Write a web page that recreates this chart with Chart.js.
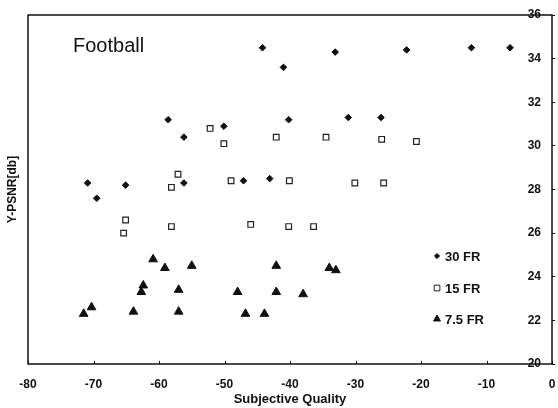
<!DOCTYPE html>
<html>
<head>
<meta charset="utf-8">
<script src="https://cdn.jsdelivr.net/npm/chart.js@4"></script>
<style>
  html, body { margin: 0; padding: 0; background: #fff; }
  canvas { display: block; }
</style>
</head>
<body>
<canvas id="psnrChart" width="558" height="408"></canvas>
<script>
// ── Data ────────────────────────────────────────────────────────────────────
const seriesLabels = ['30 FR', '15 FR', '7.5 FR'];

const fr30X = [-70.9, -69.5, -65.1, -58.6, -56.2, -56.2, -50.1, -47.1, -44.2, -43.1, -41.0, -40.2, -33.1, -31.1, -26.1, -22.2, -12.3, -6.4];
const fr30Y = [28.3, 27.6, 28.2, 31.2, 30.4, 28.3, 30.9, 28.4, 34.5, 28.5, 33.6, 31.2, 34.3, 31.3, 31.3, 34.4, 34.5, 34.5];

const fr15X = [-65.1, -65.4, -58.1, -46.0, -40.2, -36.4, -58.1, -57.1, -52.2, -50.1, -49.0, -42.1, -40.1, -34.5, -30.1, -26.0, -25.7, -20.7];
const fr15Y = [26.6, 26.0, 26.3, 26.4, 26.3, 26.3, 28.1, 28.7, 30.8, 30.1, 28.4, 30.4, 28.4, 30.4, 28.3, 30.3, 28.3, 30.2];

const fr75X = [-71.5, -70.3, -63.9, -62.7, -62.4, -60.9, -59.1, -57.0, -57.0, -55.0, -48.0, -46.8, -43.9, -42.1, -42.1, -38.0, -34.0, -33.0];
const fr75Y = [22.3, 22.6, 22.4, 23.3, 23.6, 24.8, 24.4, 23.4, 22.4, 24.5, 23.3, 22.3, 22.3, 24.5, 23.3, 23.2, 24.4, 24.3];

const xTicks = [-80, -70, -60, -50, -40, -30, -20, -10, 0];
const yTicks = [20, 22, 24, 26, 28, 30, 32, 34, 36];

// ── Helpers ─────────────────────────────────────────────────────────────────
const INK = '#111';
const FAMILY = '"Liberation Sans", Arial, sans-serif';

function toPoints(xs, ys) {
    return xs.map((x, i) => ({ x, y: ys[i] }));
}

// frame round the plot, inward ticks on the bottom axis, caption and legend
const framePlugin = {
    id: 'frame',
    afterDraw(chart) {
        const { ctx, chartArea: a, scales } = chart;
        ctx.save();
        ctx.strokeStyle = INK;
        ctx.lineWidth = 1.5;
        ctx.strokeRect(a.left, a.top, a.right - a.left, a.bottom - a.top);

        ctx.lineWidth = 1;
        ctx.beginPath();
        xTicks.forEach(v => {
            const px = Math.round(scales.x.getPixelForValue(v)) + 0.5;
            ctx.moveTo(px, a.bottom);
            ctx.lineTo(px, a.bottom - 3);
        });
        ctx.stroke();

        // caption
        ctx.fillStyle = INK;
        ctx.font = '20px ' + FAMILY;
        ctx.textBaseline = 'middle';
        ctx.textAlign = 'left';
        ctx.fillText('Football', 73, 46);

        // legend inside the plot
        ctx.font = 'bold 13px ' + FAMILY;
        const legendY = [256, 288, 319];
        chart.data.datasets.forEach((ds, i) => {
            const opts = {
                pointStyle: ds.pointStyle,
                radius: ds.legendRadius,
                borderWidth: 1
            };
            ctx.fillStyle = ds.backgroundColor;
            ctx.strokeStyle = ds.borderColor;
            Chart.helpers.drawPoint(ctx, opts, 437, legendY[i]);
            ctx.fillStyle = INK;
            ctx.fillText(ds.label, 445, legendY[i] + 1);
        });
        ctx.restore();
    }
};

// ── Chart ───────────────────────────────────────────────────────────────────
new Chart(document.getElementById('psnrChart'), {
    type: 'scatter',
    data: {
        datasets: [
            {
                label: seriesLabels[0],
                data: toPoints(fr30X, fr30Y),
                pointStyle: 'rectRot',
                pointRadius: 3.3,
                legendRadius: 2.6,
                backgroundColor: INK,
                borderColor: INK,
                borderWidth: 1
            },
            {
                label: seriesLabels[1],
                data: toPoints(fr15X, fr15Y),
                pointStyle: 'rect',
                pointRadius: 4,
                legendRadius: 4,
                backgroundColor: '#fff',
                borderColor: '#222',
                borderWidth: 1.2
            },
            {
                label: seriesLabels[2],
                data: toPoints(fr75X, fr75Y),
                pointStyle: 'triangle',
                pointRadius: 5,
                legendRadius: 4,
                backgroundColor: INK,
                borderColor: INK,
                borderWidth: 1
            }
        ]
    },
    options: {
        responsive: false,
        animation: false,
        events: [],
        layout: { padding: { top: 15, left: 0, right: 0, bottom: 0 } },
        plugins: {
            legend: { display: false },
            tooltip: { enabled: false }
        },
        scales: {
            x: {
                type: 'linear',
                position: 'bottom',
                min: -80,
                max: 0,
                afterBuildTicks: s => { s.ticks = xTicks.map(v => ({ value: v })); },
                afterFit: s => { s.height = 44; s.paddingLeft = 0; s.paddingRight = 0; },
                border: { display: false },
                grid: { display: false, drawTicks: false },
                ticks: {
                    color: INK,
                    font: { family: FAMILY, size: 12, weight: 'bold' },
                    padding: 13,
                    maxRotation: 0,
                    autoSkip: false
                },
                title: {
                    display: true,
                    text: 'Subjective Quality',
                    color: INK,
                    font: { family: FAMILY, size: 13, weight: 'bold' },
                    padding: { top: 0, bottom: 1 }
                }
            },
            yTitle: {
                type: 'linear',
                position: 'left',
                min: 20,
                max: 36,
                afterFit: s => { s.width = 28; },
                border: { display: false },
                grid: { display: false, drawTicks: false },
                ticks: { display: false },
                title: {
                    display: true,
                    text: 'Y-PSNR[db]',
                    color: INK,
                    font: { family: FAMILY, size: 12, weight: 'bold' },
                    padding: { top: 5, bottom: 0 }
                }
            },
            y: {
                type: 'linear',
                position: 'right',
                min: 20,
                max: 36,
                afterBuildTicks: s => { s.ticks = yTicks.map(v => ({ value: v })); },
                afterFit: s => { s.width = 4; },
                border: { display: false },
                grid: {
                    drawOnChartArea: false,
                    drawTicks: true,
                    tickLength: 3,
                    color: INK
                },
                ticks: {
                    mirror: true,
                    color: INK,
                    font: { family: FAMILY, size: 12, weight: 'bold' },
                    padding: -11
                }
            }
        }
    },
    plugins: [framePlugin]
});
</script>
</body>
</html>
